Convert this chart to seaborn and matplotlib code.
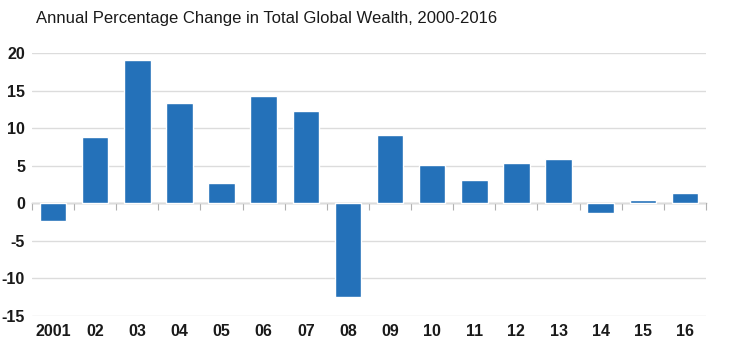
import matplotlib
matplotlib.use("Agg")
import matplotlib.pyplot as plt
import seaborn as sns
import pandas as pd

# data
years = ["2001", "02", "03", "04", "05", "06", "07", "08",
         "09", "10", "11", "12", "13", "14", "15", "16"]
change = [-2.3, 8.8, 19.1, 13.3, 2.7, 14.3, 12.3, -12.5,
          9.1, 5.1, 3.1, 5.3, 5.9, -1.3, 0.4, 1.4]
yticks = [-15, -10, -5, 0, 5, 10, 15, 20]

df = pd.DataFrame({"year": years, "change": change})

sns.set_style("white")
plt.rcParams["font.family"] = ["Liberation Sans", "DejaVu Sans"]
plt.rcParams["axes.unicode_minus"] = False

fig = plt.figure(figsize=(7.48, 3.54), dpi=100)
ax = fig.add_axes([32 / 748, 1 - 316 / 354, 674 / 748, 263 / 354])

sns.barplot(data=df, x="year", y="change", color="#2471b9", width=0.63,
            saturation=1, ax=ax, zorder=3)

ax.set_ylim(-15, 20)
ax.set_xlim(-0.5, len(years) - 0.5)
ax.set_yticks(yticks)
ax.grid(axis="y", color="#dcdcdc", linewidth=1, zorder=0)
ax.set_xlabel("")
ax.set_ylabel("")
for s in ax.spines.values():
    s.set_visible(False)
ax.tick_params(axis="y", length=0, pad=5, labelsize=11.5, labelcolor="#1a1a1a")
ax.tick_params(axis="x", length=0, pad=6, labelsize=11.5, labelcolor="#1a1a1a")
for lab in ax.get_xticklabels() + ax.get_yticklabels():
    lab.set_fontweight("bold")

# zero line with small ticks between categories
zero_pos = (0 - (-15)) / (20 - (-15))
sec = ax.secondary_xaxis(zero_pos)
sec.set_xticks([i + 0.5 for i in range(-1, len(years))])
sec.tick_params(axis="x", length=5, color="#b0b0b0", labelbottom=False,
                labeltop=False, direction="out")
sec.spines["bottom"].set_color("#b0b0b0")
sec.spines["bottom"].set_linewidth(1)

fig.text(36 / 748, 1 - 18 / 354, "Annual Percentage Change in Total Global Wealth, 2000-2016",
         fontsize=12, color="#1a1a1a", va="center", ha="left")

fig.savefig("out.png", dpi=100)
